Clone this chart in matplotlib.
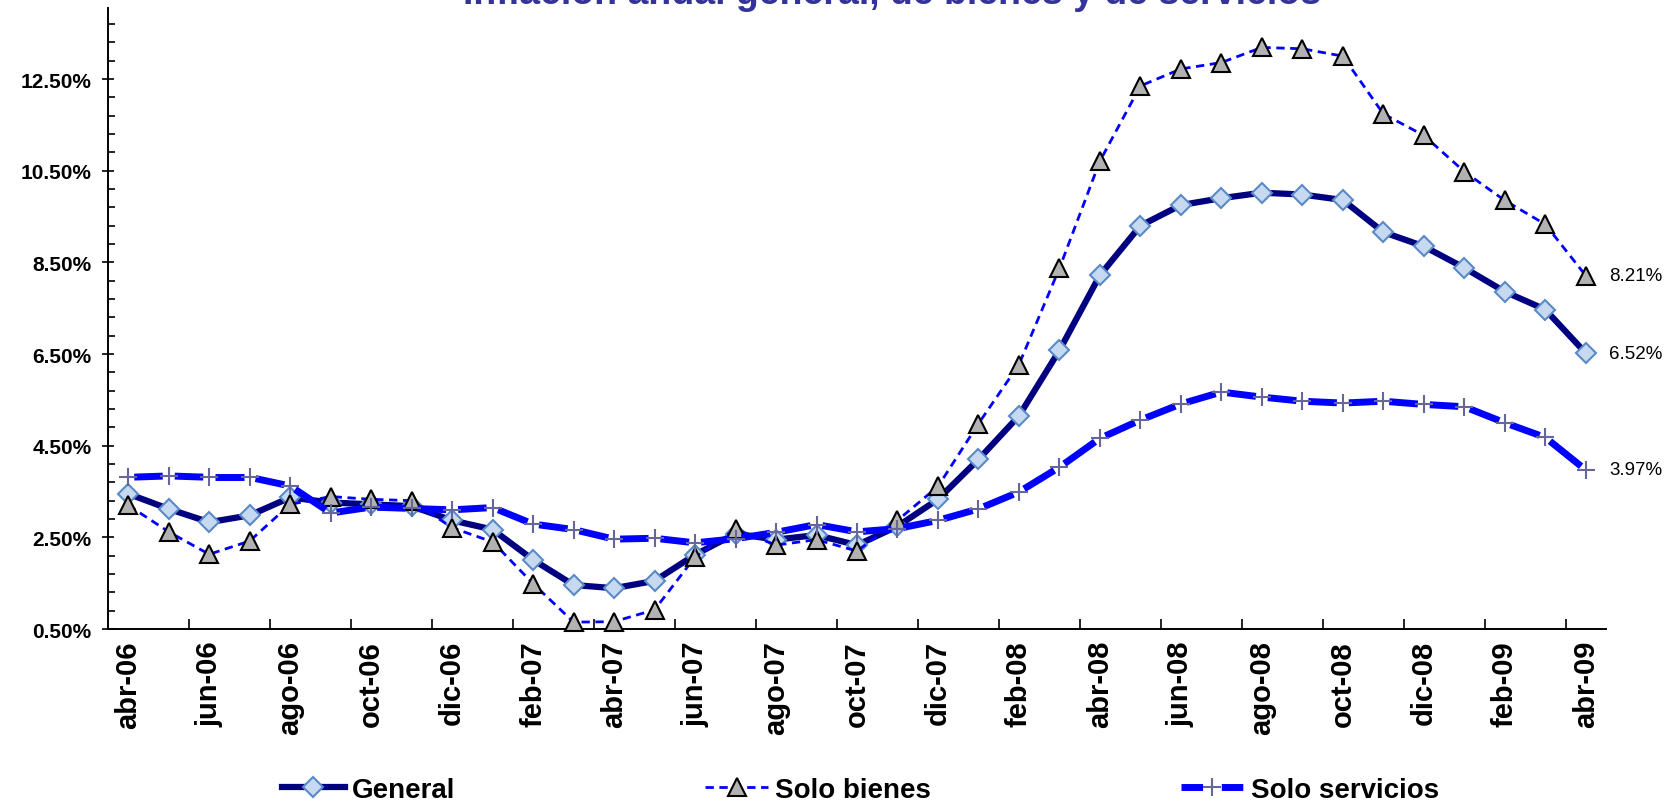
import numpy as np
import matplotlib.pyplot as plt
from matplotlib.lines import Line2D
from matplotlib.ticker import FixedLocator, FuncFormatter

plt.rcParams['font.family'] = ['Liberation Sans', 'DejaVu Sans']

meses = ['abr-06', 'may-06', 'jun-06', 'jul-06', 'ago-06', 'sep-06', 'oct-06', 'nov-06', 'dic-06',
         'ene-07', 'feb-07', 'mar-07', 'abr-07', 'may-07', 'jun-07', 'jul-07', 'ago-07', 'sep-07',
         'oct-07', 'nov-07', 'dic-07', 'ene-08', 'feb-08', 'mar-08', 'abr-08', 'may-08', 'jun-08',
         'jul-08', 'ago-08', 'sep-08', 'oct-08', 'nov-08', 'dic-08', 'ene-09', 'feb-09', 'mar-09',
         'abr-09']

general = [3.45, 3.12, 2.83, 2.98, 3.37, 3.26, 3.22, 3.18, 2.87, 2.67, 2.01, 1.46, 1.39, 1.55,
           2.12, 2.58, 2.45, 2.55, 2.33, 2.74, 3.33, 4.20, 5.15, 6.58, 8.22, 9.30, 9.75, 9.90,
           10.02, 9.98, 9.86, 9.16, 8.85, 8.38, 7.86, 7.47, 6.52]

bienes = [3.20, 2.62, 2.13, 2.42, 3.22, 3.39, 3.33, 3.30, 2.71, 2.40, 1.49, 0.65, 0.66, 0.92,
          2.07, 2.68, 2.33, 2.45, 2.20, 2.87, 3.61, 4.98, 6.27, 8.37, 10.71, 12.35, 12.72, 12.86,
          13.19, 13.16, 13.00, 11.74, 11.27, 10.48, 9.85, 9.33, 8.21]

servicios = [3.81, 3.84, 3.81, 3.81, 3.62, 3.03, 3.16, 3.13, 3.10, 3.15, 2.79, 2.67, 2.46, 2.48,
             2.38, 2.47, 2.61, 2.78, 2.62, 2.69, 2.87, 3.12, 3.49, 4.03, 4.66, 5.06, 5.41, 5.67,
             5.56, 5.47, 5.43, 5.47, 5.40, 5.35, 5.00, 4.68, 3.97]

y_ticks = [0.5, 2.5, 4.5, 6.5, 8.5, 10.5, 12.5]

W, H = 1677, 804
fig = plt.figure(figsize=(W / 100, H / 100), dpi=100)
ax = fig.add_axes([108 / W, 1 - 630 / H, (1606 - 108) / W, (630 - 9) / H])

x = np.arange(len(meses))
ax.set_xlim(-0.5, len(meses) - 0.5)
ax.set_ylim(0.5, 14.05)

c_gen = '#000080'
c_blue = '#0000ff'

ax.plot(x, general, color=c_gen, lw=4.5, marker='D', ms=10.5, mfc='#c6d9f1', mec='#5a8ac6',
        mew=1.5, zorder=3, clip_on=False)
ax.plot(x, bienes, color=c_blue, lw=2, dashes=(3, 2), marker='^', ms=13, mfc='#b2b2b2',
        mec='black', mew=1.5, zorder=4, clip_on=False)

# servicios: one dash per segment, gap around each point (like excel)
pts = ax.transData.transform(np.column_stack([x, servicios]))
inv = ax.transData.inverted()
for i in range(len(x) - 1):
    p0, p1 = pts[i], pts[i + 1]
    L = np.hypot(*(p1 - p0))
    f = 6 / L
    a = inv.transform(p0 + (p1 - p0) * f)
    b = inv.transform(p1 - (p1 - p0) * f)
    ax.plot([a[0], b[0]], [a[1], b[1]], color=c_blue, lw=5, solid_capstyle='butt', zorder=5)
ax.plot(x, servicios, ls='none', marker='+', ms=13, mec='#666699', mew=1.5, zorder=6,
        clip_on=False)

# etiquetas del ultimo dato
for serie in [general, bienes, servicios]:
    ax.annotate(f'{serie[-1]:.2f}%', (x[-1], serie[-1]), xytext=(17, 0),
                textcoords='offset points', va='center', ha='left', fontsize=13.5,
                annotation_clip=False)

# ejes
for s in ['top', 'right']:
    ax.spines[s].set_visible(False)
for s in ['left', 'bottom']:
    ax.spines[s].set_linewidth(1.4)
    ax.spines[s].set_color('black')

ax.yaxis.set_major_locator(FixedLocator(y_ticks))
ax.yaxis.set_minor_locator(FixedLocator(np.arange(0.5, 14.05, 0.4)))
ax.yaxis.set_major_formatter(FuncFormatter(lambda v, _: f'{v:.2f}%'))
ax.tick_params(axis='y', which='major', direction='inout', length=8, width=1.2, pad=8,
               labelsize=15)
ax.tick_params(axis='y', which='minor', direction='in', length=5, width=1.2)
for t in ax.get_yticklabels():
    t.set_fontweight('bold')

ax.set_xticks(x[::2])
ax.set_xticklabels(meses[::2], rotation=90, fontsize=21, fontweight='bold')
ax.xaxis.set_minor_locator(FixedLocator(np.arange(1.5, len(meses) - 1, 2)))
ax.tick_params(axis='x', which='major', length=0, pad=8)
ax.tick_params(axis='x', which='minor', direction='in', length=7, width=1.2)

fig.text(0.532, 0.995, 'Inflación anual general, de bienes y de servicios', ha='center',
         va='baseline', fontsize=27, fontweight='bold', color='#333399')

handles = [
    Line2D([], [], color=c_gen, lw=4.5, marker='D', ms=10.5, mfc='#c6d9f1', mec='#5a8ac6', mew=1.5),
    Line2D([], [], color=c_blue, lw=2, dashes=(3, 2), marker='^', ms=13, mfc='#b2b2b2',
           mec='black', mew=1.5),
    Line2D([], [], color=c_blue, lw=5, dashes=(3.1, 2.7), marker='+', ms=13, mec='#666699', mew=1.5),
]
fig.legend(handles, ['General', 'Solo bienes', 'Solo servicios'], loc='center',
           bbox_to_anchor=(0.513, 0.016), ncol=3, frameon=False, handlelength=2.27,
           handletextpad=0.25, columnspacing=9.0, borderaxespad=0,
           prop={'weight': 'bold', 'size': 20})

fig.savefig('out.png', dpi=100)
